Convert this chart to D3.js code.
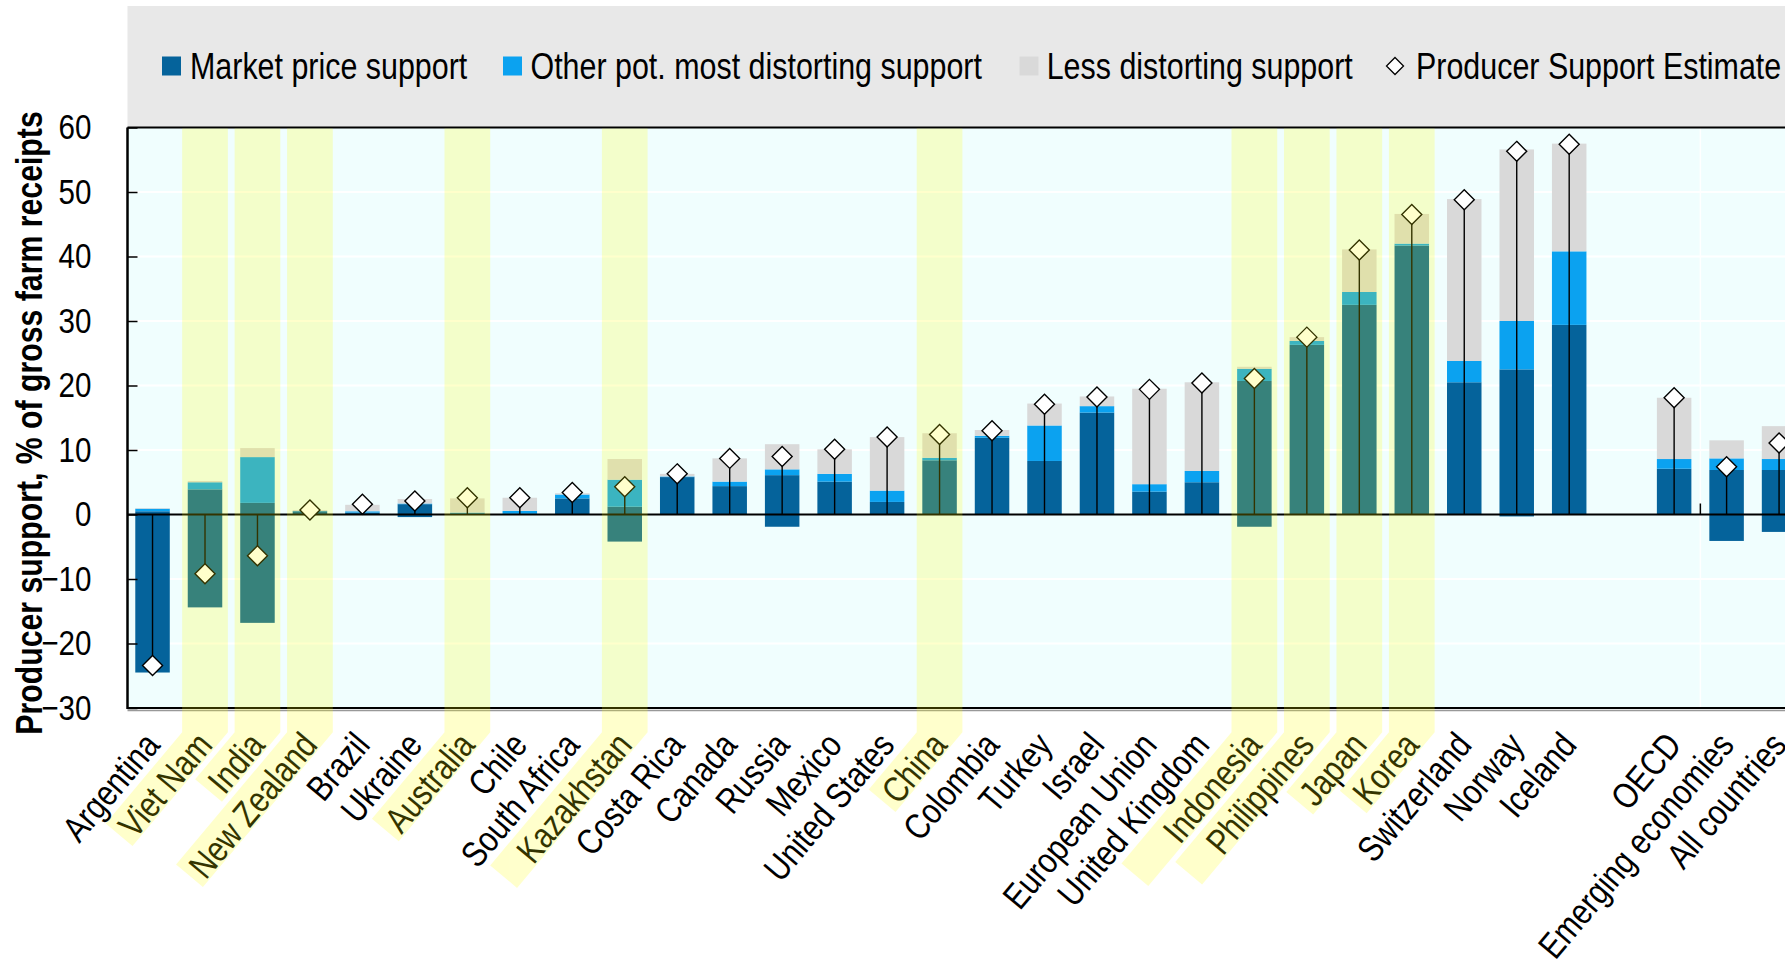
<!DOCTYPE html>
<html><head><meta charset="utf-8">
<script src="https://cdn.jsdelivr.net/npm/d3@7"></script>
<style>
html,body{margin:0;padding:0;background:#fff;overflow:hidden}
svg{display:block}
text{font-family:"Liberation Sans",Arial,sans-serif;fill:#000}
</style></head><body><svg id="c" width="1785" height="962"></svg>
<script>
// ---------- data ----------
const categories = ["Argentina","Viet Nam","India","New Zealand","Brazil","Ukraine","Australia","Chile","South Africa","Kazakhstan","Costa Rica","Canada","Russia","Mexico","United States","China","Colombia","Turkey","Israel","European Union","United Kingdom","Indonesia","Philippines","Japan","Korea","Switzerland","Norway","Iceland","","OECD","Emerging economies","All countries"];
const mpsPositive     = [0.5, 3.9, 1.8, 0.5, 0.3, 1.6, 0.1, 0.1, 2.5, 1.2, 5.8, 4.4, 6.1, 5.1, 1.95, 8.4, 11.9, 8.3, 15.8, 3.55, 5.0, 20.7, 26.3, 32.5, 41.7, 20.5, 22.5, 29.4, null, 7.1, 6.9, 6.9];
const mpsNegative     = [-24.5, -14.4, -16.8, 0, 0, -0.4, 0, 0, 0, -4.2, 0, 0, -1.9, 0, 0, 0, 0, 0, 0, 0, 0, -1.9, 0, 0, 0, 0, -0.3, 0, null, 0, -4.1, -2.7];
const otherDistorting = [0.4, 1.1, 7.1, 0.05, 0.2, 0.1, 0.2, 0.45, 0.6, 4.2, 0.1, 0.7, 0.9, 1.2, 1.75, 0.4, 0.3, 5.5, 1.0, 1.15, 1.75, 1.9, 0.6, 2.0, 0.3, 3.3, 7.5, 11.4, null, 1.5, 1.8, 1.7];
const lessDistorting  = [0.1, 0.2, 1.4, 0.15, 1.0, 0.7, 2.2, 2.05, 0.2, 3.2, 0.4, 3.6, 3.9, 3.8, 8.3, 3.8, 0.9, 3.4, 1.5, 14.8, 13.75, 0.3, 0.6, 6.6, 4.6, 25.1, 26.6, 16.7, null, 9.5, 2.8, 5.1];
const pseValues       = [-23.4, -9.2, -6.4, 0.7, 1.6, 2.1, 2.6, 2.6, 3.4, 4.3, 6.3, 8.7, 9.0, 10.1, 12.0, 12.4, 13.0, 17.1, 18.2, 19.4, 20.4, 21.1, 27.5, 41.0, 46.5, 48.8, 56.3, 57.4, null, 18.1, 7.4, 11.1];
const highlighted = ["Viet Nam","India","New Zealand","Australia","Kazakhstan","China","Indonesia","Philippines","Japan","Korea"];
const yTickValues = [-30,-20,-10,0,10,20,30,40,50,60];
const legendLabels = ["Market price support","Other pot. most distorting support","Less distorting support","Producer Support Estimate"];
const yTitle = "Producer support, % of gross farm receipts";

// ---------- setup / style ----------
const W = 1785, H = 962;
const C = {dark:"#05639b", light:"#0ba2f0", grey:"#d9d9d9", plotBg:"#f0fefe", legendBg:"#e8e8e8"};
const NARROW = 0.845;
const bandExtraStyle = {"Indonesia": 45, "Kazakhstan": 21, "Philippines": 28};
const svg = d3.select("#c");
const P = {left:127.5, top:127.5, bottom:708, right:1805.3};

// condense a text (Arial Narrow look) by squeezing glyphs horizontally
function narrow(sel, f) {
  sel.each(function() {
    const L = this.getComputedTextLength();
    d3.select(this).attr("textLength", L * (f || NARROW)).attr("lengthAdjust", "spacingAndGlyphs");
  });
}

const x = d3.scaleBand().domain(categories).range([126.3, 1805.3]).paddingInner(0.3425).paddingOuter(0.17125);
const y = d3.scaleLinear().domain([-30, 60]).range([P.bottom, P.top]);
const cx = c => x(c) + x.bandwidth() / 2;

// legend band
svg.append("rect").attr("x", P.left).attr("y", 6).attr("width", W - P.left).attr("height", P.top - 6).attr("fill", C.legendBg);
// plot background
svg.append("rect").attr("x", P.left).attr("y", P.top).attr("width", P.right - P.left).attr("height", P.bottom - P.top).attr("fill", C.plotBg);

// gridlines
svg.append("g").selectAll("line").data(yTickValues.filter(v => v !== 0 && v !== -30 && v !== 60)).join("line")
  .attr("x1", P.left).attr("x2", P.right).attr("y1", d => y(d)).attr("y2", d => y(d))
  .attr("stroke", "#fff").attr("stroke-width", 2);
// vertical separator between OECD and Emerging economies
const sepX = cx("OECD") + x.step() / 2;
svg.append("line").attr("x1", sepX).attr("x2", sepX).attr("y1", P.top).attr("y2", P.bottom).attr("stroke", "#fff").attr("stroke-width", 1.5);

// ---------- bars ----------
const rows = categories.map((c, i) => ({cat: c, mpsPos: mpsPositive[i] || 0, other: otherDistorting[i] || 0, less: lessDistorting[i] || 0, mpsNeg: mpsNegative[i] || 0, pse: pseValues[i]}));
const keys = ["mpsPos", "other", "less", "mpsNeg"];
const colorOf = {mpsPos: C.dark, other: C.light, less: C.grey, mpsNeg: C.dark};
const stack = d3.stack().keys(keys).offset(d3.stackOffsetDiverging)(rows);
const barG = svg.append("g");
stack.forEach(s => {
  barG.append("g").attr("fill", colorOf[s.key]).selectAll("rect")
    .data(s.filter(d => d.data.cat !== "" && Math.abs(d[1] - d[0]) > 1e-9)).join("rect")
    .attr("x", d => x(d.data.cat)).attr("width", x.bandwidth())
    .attr("y", d => y(Math.max(d[0], d[1]))).attr("height", d => Math.abs(y(d[0]) - y(d[1])));
});

// zero line
svg.append("line").attr("x1", P.left).attr("x2", P.right).attr("y1", y(0)).attr("y2", y(0)).attr("stroke", "#000").attr("stroke-width", 2);
svg.append("line").attr("x1", sepX).attr("x2", sepX).attr("y1", y(0)).attr("y2", y(0) - 11).attr("stroke", "#000").attr("stroke-width", 1.5);

// drop lines and diamonds
const pts = rows.filter(d => d.pse !== null && d.cat !== "");
svg.append("g").selectAll("line").data(pts).join("line")
  .attr("x1", d => cx(d.cat)).attr("x2", d => cx(d.cat)).attr("y1", y(0)).attr("y2", d => y(d.pse))
  .attr("stroke", "#000").attr("stroke-width", 1.4);
const r = 10;
const diamond = (px, py, rr) => `M${px},${py - rr}L${px + rr},${py}L${px},${py + rr}L${px - rr},${py}Z`;
svg.append("g").selectAll("path").data(pts).join("path")
  .attr("d", d => diamond(cx(d.cat), y(d.pse), r))
  .attr("fill", "#fff").attr("stroke", "#000").attr("stroke-width", 1.4);

// ---------- frame & axis ----------
svg.append("line").attr("x1", P.left).attr("x2", W).attr("y1", P.top).attr("y2", P.top).attr("stroke", "#000").attr("stroke-width", 2);
svg.append("line").attr("x1", P.left).attr("x2", W).attr("y1", P.bottom + 2.5).attr("y2", P.bottom + 2.5).attr("stroke", "#999").attr("stroke-width", 1.5);
svg.append("line").attr("x1", P.left).attr("x2", W).attr("y1", P.bottom).attr("y2", P.bottom).attr("stroke", "#000").attr("stroke-width", 2);
svg.append("line").attr("x1", P.left).attr("x2", P.left).attr("y1", P.top).attr("y2", P.bottom + 1).attr("stroke", "#000").attr("stroke-width", 2.5);

const yAxis = svg.append("g").attr("transform", `translate(${P.left},0)`)
  .call(d3.axisLeft(y).tickValues(yTickValues).tickFormat(d3.format("d")).tickSizeInner(-10).tickSizeOuter(0).tickPadding(36));
yAxis.select(".domain").remove();
yAxis.attr("font-family", null).attr("font-size", null);
yAxis.selectAll(".tick line").attr("stroke", "#000").attr("stroke-width", 1.5);
yAxis.selectAll(".tick text").attr("font-size", 35).attr("fill", "#000").call(narrow);

svg.append("text").attr("transform", `translate(42,${(108 + 738) / 2}) rotate(-90)`)
  .attr("text-anchor", "middle").attr("font-size", 36).attr("font-weight", "bold")
  .text(yTitle).call(narrow, 0.84);

// ---------- category labels ----------
const textAngle = 50;
const labelG = svg.append("g");
const labelNodes = {};
categories.filter(c => c !== "").forEach(c => {
  const t = labelG.append("text").attr("transform", `translate(${cx(c) + 9},746) rotate(${-textAngle})`)
    .attr("text-anchor", "end").attr("font-size", 36).text(c).call(narrow, 0.83);
  labelNodes[c] = t.node();
});

// ---------- legend ----------
const legY = 66;
const legX = [162, 503, 1019.5, 1395];
const legTX = [190, 530.5, 1046.7, 1416];
[C.dark, C.light, C.grey].forEach((col, i) => {
  svg.append("rect").attr("x", legX[i]).attr("y", legY - 9.5).attr("width", 19).attr("height", 19).attr("fill", col);
});
svg.append("path").attr("d", diamond(legX[3], legY, 8.5)).attr("fill", "#fff").attr("stroke", "#000").attr("stroke-width", 1.3);
legendLabels.forEach((l, i) => {
  svg.append("text").attr("x", legTX[i]).attr("y", legY + 12.5).attr("font-size", 36).text(l).call(narrow);
});

// ---------- highlight overlay ----------
const hl = svg.append("g").attr("opacity", 0.2).attr("fill", "#ffff00");
const phi = textAngle * Math.PI / 180;
const dx = -Math.cos(phi), dy = Math.sin(phi);
const nx = -Math.sin(phi), ny = -Math.cos(phi);
const y0 = 732.3;
highlighted.forEach(c => {
  const colW = 45.7;
  const xl = cx(c) - colW / 2, xr = cx(c) + colW / 2;
  const len = +labelNodes[c].getAttribute("textLength") + 26 + (bandExtraStyle[c] || 0);
  const wPerp = colW * Math.sin(phi);
  const R1 = [xr + len * dx, y0 + len * dy];
  const L1 = [R1[0] + wPerp * nx, R1[1] + wPerp * ny];
  hl.append("path").attr("d", `M${xl},${P.top + 1}L${xr},${P.top + 1}L${xr},${y0}L${R1[0]},${R1[1]}L${L1[0]},${L1[1]}L${xl},${y0}Z`);
});
</script></body></html>
